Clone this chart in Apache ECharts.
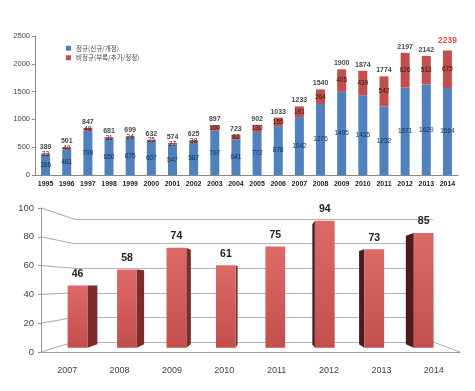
<!DOCTYPE html>
<html><head><meta charset="utf-8">
<script src="https://cdn.jsdelivr.net/npm/echarts@6/dist/echarts.min.js"></script>
<style>html,body{margin:0;padding:0;background:#fff}#c{width:475px;height:391px}</style>
</head><body><div id="c"></div>
<script>
// ---- data: top chart ----
const years1 = ['1995','1996','1997','1998','1999','2000','2001','2002','2003','2004','2005','2006','2007','2008','2009','2010','2011','2012','2013','2014'];
const regular = [366,461,799,650,675,607,547,587,797,641,772,878,1042,1276,1495,1435,1232,1571,1629,1564];
const irregular = [23,40,48,31,24,25,27,38,100,82,130,155,191,264,405,439,542,626,513,675];
const totals = [389,501,847,681,699,632,574,625,897,723,902,1033,1233,1540,1900,1874,1774,2197,2142,2239];
const seriesNames = ['정규(신규/개정)','비정규(부록/추가/정정)'];
// ---- data: bottom chart ----
const years2 = ['2007','2008','2009','2010','2011','2012','2013','2014'];
const values2 = [46,58,74,61,75,94,73,85];
const ticks2 = [0,20,40,60,80,100];

const FONT = "'Liberation Sans', Arial, sans-serif";
const KFONT = "'Noto Sans CJK KR', 'Liberation Sans', sans-serif";
// perspective constants (style)
const VP_X = 3.87, VP_Y = 48, DEPTH = 0.945, BAR_RATIO = 0.4;
const FRONT = {left:41, top:208, width:419, height:144};
const BACK = {left:74, top:219, width:359, height:123};

const chart = echarts.init(document.getElementById('c'));

const option = {
  animation:false,
  backgroundColor:'#fff',
  textStyle:{fontFamily:FONT},
  legend:{
    data:seriesNames, orient:'vertical', left:66, top:45, padding:0,
    itemWidth:5, itemHeight:5, itemGap:3, icon:'rect',
    textStyle:{fontSize:6.5, color:'#444', fontFamily:KFONT}
  },
  grid:[
    {left:35, top:36, width:423, height:139, outerBoundsMode:'none'},
    Object.assign({outerBoundsMode:'none'}, FRONT),
    Object.assign({outerBoundsMode:'none'}, BACK),
    {left:52.8, top:212.7, width:395.6, height:135, outerBoundsMode:'none'}
  ],
  xAxis:[
    {gridIndex:0, type:'category', data:years1,
     axisLine:{lineStyle:{color:'#888'}}, axisTick:{length:3, lineStyle:{color:'#888'}},
     axisLabel:{fontSize:7, fontWeight:'bold', color:'#222', margin:6}},
    {gridIndex:1, type:'category', data:years2,
     axisLine:{lineStyle:{color:'#999'}}, axisTick:{length:4, lineStyle:{color:'#999'}},
     axisLabel:{fontSize:9, color:'#444', margin:14}},
    {gridIndex:2, type:'category', data:years2, show:false},
    {gridIndex:3, type:'value', min:-0.5, max:7.5, show:false}
  ],
  yAxis:[
    {gridIndex:0, type:'value', min:0, max:2500, interval:500,
     axisLine:{show:true, lineStyle:{color:'#888'}}, axisTick:{show:true, length:3, lineStyle:{color:'#888'}},
     splitLine:{show:false}, axisLabel:{fontSize:7.5, color:'#444', margin:5, formatter:v=>String(v)}},
    {gridIndex:1, type:'value', min:0, max:100, interval:20,
     axisLine:{show:true, lineStyle:{color:'#999'}}, axisTick:{show:true, length:3, lineStyle:{color:'#999'}},
     splitLine:{show:false}, axisLabel:{fontSize:9.5, color:'#444', margin:7}},
    {gridIndex:2, type:'value', min:0, max:100, interval:20,
     axisLine:{show:false}, axisTick:{show:false}, axisLabel:{show:false},
     splitLine:{show:true, lineStyle:{color:'#b4b4b4', width:1}}},
    {gridIndex:3, type:'value', min:0, max:100, show:false}
  ],
  series:[
    {name:seriesNames[0], type:'bar', stack:'t', xAxisIndex:0, yAxisIndex:0, data:regular, barWidth:9,
     itemStyle:{color:'#4f81bd'},
     label:{show:true, position:'inside', fontSize:6.5, color:'#1c2a48'}},
    {name:seriesNames[1], type:'bar', stack:'t', xAxisIndex:0, yAxisIndex:0, data:irregular, barWidth:9,
     itemStyle:{color:'#c0504d'},
     label:{show:true, position:'inside', fontSize:6.5, color:'#2a1515'}},
    {type:'scatter', xAxisIndex:0, yAxisIndex:0, silent:true, symbolSize:1,
     itemStyle:{color:'rgba(0,0,0,0)'},
     data: totals.map((v,i)=> i===totals.length-1 ? {value:v, label:{color:'#e3231f', fontSize:8.5, distance:5}} : v),
     label:{show:true, position:'top', distance:2, fontSize:7, fontWeight:'bold', color:'#111'}},
    {type:'custom', xAxisIndex:3, yAxisIndex:3, z:5,
     data: values2.map((v,i)=>[i,v]),
     renderItem:function(params, api){
       const i = api.value(0), v = api.value(1);
       const t = api.coord([i, v]), b = api.coord([i, 0]);
       const w = api.size([1,0])[0]*BAR_RATIO;
       const xl = t[0]-w/2, xr = t[0]+w/2;
       const vp = api.coord([VP_X, VP_Y]);
       const proj = (x,y)=>[vp[0]+(x-vp[0])*DEPTH, vp[1]+(y-vp[1])*DEPTH];
       const children = [];
       let sx = null, sc;
       if (xr < vp[0]) { sx = xr; sc = '#7a2d2b'; }
       else if (xl > vp[0]) { sx = xl; sc = '#4c1b1a'; }
       if (sx !== null) {
         children.push({type:'polygon', shape:{points:[[sx,t[1]], proj(sx,t[1]), proj(sx,b[1]), [sx,b[1]]]}, style:{fill:sc}});
       }
       children.push({type:'rect', shape:{x:xl, y:t[1], width:w, height:b[1]-t[1]},
         style:{fill:new echarts.graphic.LinearGradient(0,0,0,1,[{offset:0,color:'#dc6a66'},{offset:1,color:'#c24f4c'}])}});
       children.push({type:'text', style:{text:String(v), x:t[0], y:t[1]-6, align:'center', verticalAlign:'bottom',
         font:"bold 10.5px 'Liberation Sans', Arial, sans-serif", fill:'#222'}});
       return {type:'group', children:children};
     }}
  ]
};
chart.setOption(option);

// perspective connector lines between front axis and back wall
const g = [];
ticks2.forEach(v=>{
  const yf = chart.convertToPixel({yAxisIndex:1}, v);
  const yb = chart.convertToPixel({yAxisIndex:2}, v);
  g.push({type:'line', z:0, silent:true, shape:{x1:FRONT.left, y1:yf, x2:BACK.left, y2:yb}, style:{stroke:'#a8a8a8', lineWidth:1}});
});
const yf0 = chart.convertToPixel({yAxisIndex:1}, 0), yb0 = chart.convertToPixel({yAxisIndex:2}, 0);
g.push({type:'line', z:0, silent:true, shape:{x1:BACK.left+BACK.width, y1:yb0, x2:FRONT.left+FRONT.width, y2:yf0}, style:{stroke:'#a8a8a8', lineWidth:1}});
chart.setOption({graphic:g});
</script>
</body></html>
